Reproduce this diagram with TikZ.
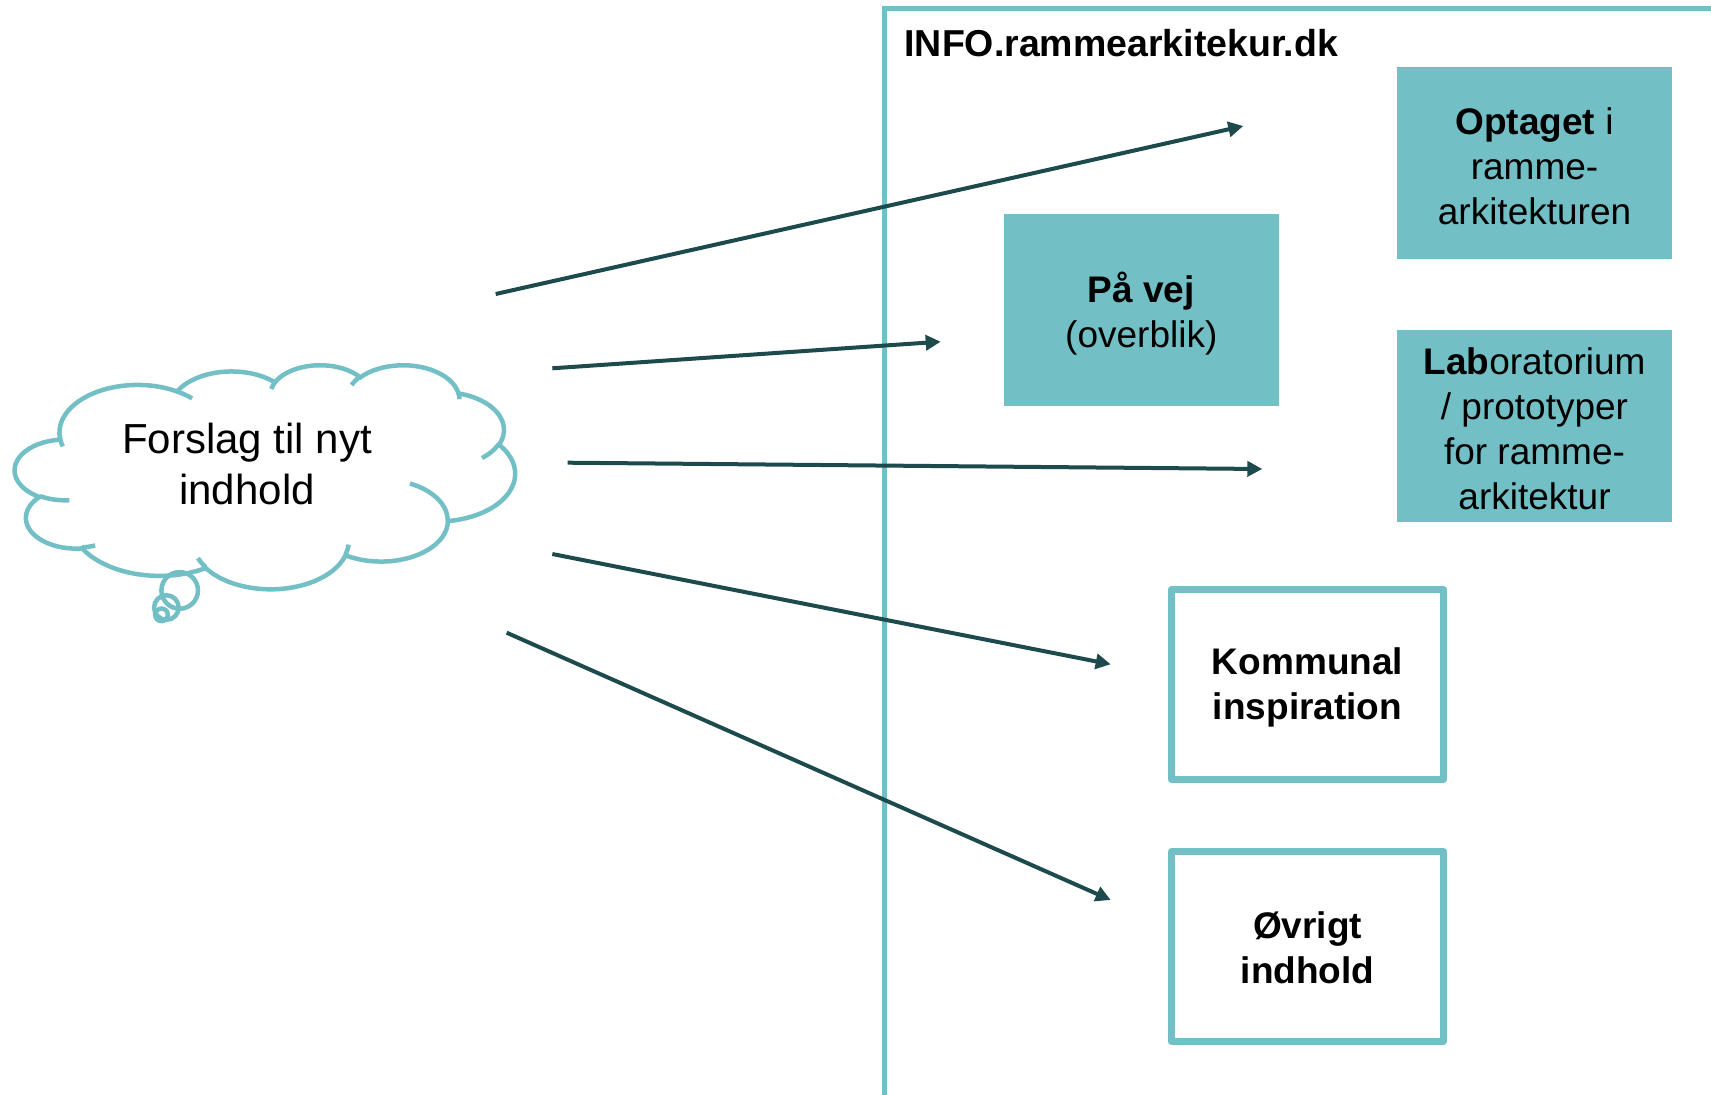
\documentclass[tikz,border=0pt]{standalone}
\usepackage{fontspec}
\setmainfont{Liberation Sans}
\usetikzlibrary{arrows.meta}
\definecolor{teal1}{HTML}{72BFC5}
\definecolor{arrowc}{HTML}{1C4A4D}
\newcommand\carc[4]{arc[x radius=#1, y radius=#2, start angle={cv(#3,#1,#2)}, end angle={cv(#3+#4,#1,#2)}]}
\begin{document}
\begin{tikzpicture}[x=1pt,y=-1pt,
  declare function={cva(\t,\a,\b)=atan2(\a*sin(\t),\b*cos(\t));
                    cv(\t,\a,\b)=cva(\t,\a,\b)+360*round((\t-cva(\t,\a,\b))/360);},
  boxtext/.style={font=\fontsize{37}{45}\selectfont, align=center, text=black, inner sep=0pt},
  boldtext/.style={boxtext, font=\fontsize{37}{45}\selectfont\bfseries},
  tealbox/.style={fill=teal1, draw=none, minimum width=275pt, minimum height=192pt, inner sep=0pt},
  linebox/.style={fill=white, draw=teal1, line width=7pt, line join=round, minimum width=272pt, minimum height=190pt, inner sep=0pt},
  cloudline/.style={draw=teal1, line width=4.5pt},
  conn/.style={draw=arrowc, line width=4pt, -{Triangle[length=15pt,width=15pt]}}
]
\useasboundingbox (0,0) rectangle (1711,1095);
\clip (0,0) rectangle (1711,1095);
\fill[white] (0,0) rectangle (1711,1095);

% frame
\draw[teal1, line width=5pt] (884.4,8) rectangle (1780,1160);
\node[anchor=base west, font=\fontsize{37.5}{45}\selectfont\bfseries] (title) at (901,56.7) {INFO.rammearkitekur.dk};

% boxes
\node[tealbox] (optaget) at (1534.5,163) {};
\node[boxtext] (optagetT) at ([yshift=-3.3pt]optaget.center) {\textbf{Optaget} i\\ramme-\\arkitekturen};
\node[tealbox] (paavej) at (1141.3,310) {};
\node[boxtext] (paavejT) at ([yshift=-3.3pt]paavej.center) {\textbf{På vej}\\(overblik)};
\node[tealbox] (lab) at (1534.5,426) {};
\node[boxtext] (labT) at ([yshift=-2.8pt]lab.center) {\textbf{Lab}oratorium\\/ prototyper\\for ramme-\\arkitektur};
\node[linebox] (kommunal) at (1307.5,684.5) {};
\node[boldtext] (kommunalT) at ([yshift=-3.3pt]kommunal.center) {Kommunal\\inspiration};
\node[linebox] (ovrigt) at (1307.5,946.5) {};
\node[boldtext] (ovrigtT) at ([yshift=-1.5pt]ovrigt.center) {Øvrigt\\indhold};

% cloud
\begin{scope}[shift={(15,364.5)}, x=0.115741pt, y=-0.0518519pt]
\draw[cloudline, fill=white] (390,1437)
  \carc{675.3}{919.0}{-190.4875}{123.7805}
  \carc{533.3}{726.7}{-144.1024}{89.9452}
  \carc{436.5}{594.5}{-145.8079}{99.7230}
  \carc{485.7}{659.5}{-130.9861}{117.2417}
  \carc{533.3}{727.3}{-78.7089}{109.0269}
  \carc{677.5}{922.0}{-46.2673}{130.2690}
  \carc{578.5}{786.7}{0.6250}{114.0333}
  \carc{675.2}{921.5}{22.4516}{115.1726}
  \carc{772.0}{1054.3}{66.2426}{75.7110}
  \carc{436.0}{591.8}{-274.9421}{146.7356}
  \carc{434.5}{594.5}{-246.8285}{152.5189} -- cycle;
\draw[cloudline]
  (469.3,2617.7) \carc{434.5}{594.5}{86.7420}{26.4295}
  (692.8,3489.9) \carc{436.0}{591.8}{73.6105}{11.4475}
  (1647.8,3909.0) \carc{675.2}{921.5}{137.6242}{14.0811}
  (2882.7,3475.1) \carc{675.2}{921.5}{6.4533}{15.9984}
  (3412.9,2295.4) \carc{578.5}{786.7}{-70.2924}{70.9174}
  (4179.8,1535.4) \carc{533.3}{727.3}{30.3180}{27.7515}
  (3832.4,542.6) \carc{485.7}{659.5}{-13.7443}{14.8589}
  (2907.8,395.2) \carc{485.7}{659.5}{-149.1815}{18.1954}
  (2214.1,472.0) \carc{436.5}{594.5}{-163.4943}{17.6864}
  (1400.0,519.2) \carc{675.3}{919.0}{-66.7070}{12.3194}
  (412.7,1578.9) \carc{675.3}{919.0}{157.6544}{11.8582};
\end{scope}
\draw[cloudline] (179.7,590.4) circle[radius=18.3pt];
\draw[cloudline] (166.4,607.5) circle[radius=12.3pt];
\draw[cloudline] (161.5,614.8) circle[radius=6.3pt];
\node[font=\fontsize{42}{51}\selectfont, align=center] (cloud) at (247,463.5) {Forslag til nyt\\indhold};

% connectors
\coordinate (a1s) at (495.7,294);   \coordinate (a1e) at (1243.3,126);
\coordinate (a2s) at (552.3,368.3); \coordinate (a2e) at (940.7,341.7);
\coordinate (a3s) at (567.7,462.7); \coordinate (a3e) at (1262.3,469);
\coordinate (a4s) at (552.3,554);   \coordinate (a4e) at (1110.7,664.3);
\coordinate (a5s) at (506.7,632.7); \coordinate (a5e) at (1110.7,900);
\draw[conn] (a1s) -- (a1e);
\draw[conn] (a2s) -- (a2e);
\draw[conn] (a3s) -- (a3e);
\draw[conn] (a4s) -- (a4e);
\draw[conn] (a5s) -- (a5e);
\end{tikzpicture}
\end{document}
